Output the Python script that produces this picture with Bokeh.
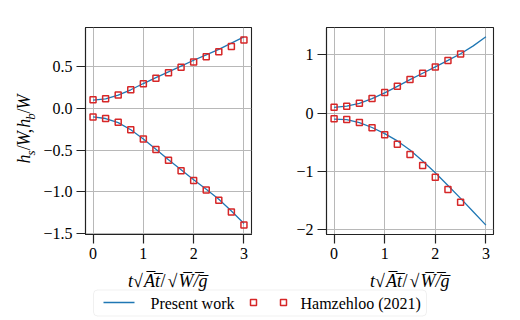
from math import pi
from bokeh.plotting import figure
from bokeh.layouts import row, column
from bokeh.models import Range1d, FixedTicker, Label, BoxAnnotation
from bokeh.embed import file_html
from bokeh.resources import INLINE

# ---------------- data ----------------
t_line = [0.0, 0.25, 0.5, 0.75, 1.0, 1.25, 1.5, 1.75, 2.0, 2.25, 2.5, 2.75, 3.0]
left_top_line = [0.10, 0.115, 0.16, 0.225, 0.30, 0.37, 0.44, 0.51, 0.58, 0.645, 0.71, 0.785, 0.86]
left_bot_line = [-0.10, -0.12, -0.17, -0.255, -0.365, -0.49, -0.615, -0.735, -0.855, -0.97, -1.09, -1.23, -1.38]
right_top_line = [0.10, 0.12, 0.17, 0.25, 0.35, 0.46, 0.575, 0.685, 0.795, 0.905, 1.02, 1.155, 1.31]
right_bot_line = [-0.10, -0.11, -0.16, -0.245, -0.35, -0.475, -0.63, -0.82, -1.02, -1.24, -1.46, -1.69, -1.92]

t_left_ref = [0.0, 0.25, 0.5, 0.75, 1.0, 1.25, 1.5, 1.75, 2.0, 2.25, 2.5, 2.75, 3.0]
left_top_ref = [0.105, 0.117, 0.161, 0.226, 0.298, 0.363, 0.431, 0.496, 0.560, 0.621, 0.681, 0.746, 0.823]
left_bot_ref = [-0.101, -0.121, -0.165, -0.254, -0.367, -0.492, -0.621, -0.746, -0.863, -0.980, -1.101, -1.242, -1.399]

t_right_ref = [0.0, 0.25, 0.5, 0.75, 1.0, 1.25, 1.5, 1.75, 2.0, 2.25, 2.5]
right_top_ref = [0.103, 0.12, 0.171, 0.251, 0.354, 0.463, 0.577, 0.686, 0.794, 0.903, 1.017]
right_bot_ref = [-0.097, -0.109, -0.16, -0.251, -0.371, -0.531, -0.709, -0.897, -1.097, -1.309, -1.526]

x_ticks = [0, 1, 2, 3]
x_tick_labels = ["0", "1", "2", "3"]
left_y_ticks = [-1.5, -1.0, -0.5, 0.0, 0.5]
left_y_tick_labels = ["\u22121.5", "\u22121.0", "\u22120.5", "0.0", "0.5"]
right_y_ticks = [-2, -1, 0, 1]
right_y_tick_labels = ["\u22122", "\u22121", "0", "1"]
legend_labels = ["Present work", "Hamzehloo (2021)"]

# ---------------- style / layout ----------------
SERIF = "Liberation Serif"
LINE_COLOR = "#1f77b4"
MARK_COLOR = "#d62728"
FRAME_W, FRAME_H = 167, 207
TOP, BOTTOM = 27, 31
PH = TOP + FRAME_H + BOTTOM          # 265
YLAB_W = 40
X_RANGE = (-0.15, 3.15)
LEFT_YR = (-1.513, 0.973)
RIGHT_YR = (-2.08, 1.47)


def make_panel(width, border_left, y_range, yticks, ylabels):
    p = figure(width=width, height=PH, x_range=Range1d(*X_RANGE), y_range=Range1d(*y_range),
               output_backend="svg", toolbar_location=None,
               min_border_left=border_left, min_border_right=width - border_left - FRAME_W,
               min_border_top=TOP, min_border_bottom=BOTTOM)
    p.background_fill_color = "white"
    p.border_fill_color = "white"
    p.outline_line_color = "#222222"
    p.outline_line_width = 1.1
    p.xaxis.ticker = FixedTicker(ticks=x_ticks, minor_ticks=[])
    p.yaxis.ticker = FixedTicker(ticks=yticks, minor_ticks=[])
    p.xaxis.major_label_overrides = dict(zip(x_ticks, x_tick_labels))
    p.yaxis.major_label_overrides = dict(zip(yticks, ylabels))
    for ax in (p.xaxis, p.yaxis):
        ax.axis_line_color = "#222222"
        ax.axis_line_width = 1.1
        ax.major_tick_line_color = "#222222"
        ax.major_tick_line_width = 1.2
        ax.major_tick_out = 9
        ax.major_tick_in = 0
        ax.minor_tick_line_color = None
        ax.major_label_text_font = SERIF
        ax.major_label_text_font_size = "16px"
        ax.major_label_text_color = "black"
        ax.major_label_standoff = 4
    p.grid.grid_line_color = "#b8b8b8"
    p.grid.grid_line_width = 1
    return p


def bare_figure(width, height, x_range, y_range):
    f = figure(width=width, height=height, x_range=Range1d(*x_range), y_range=Range1d(*y_range),
               output_backend="svg", toolbar_location=None, min_border=0,
               x_axis_type=None, y_axis_type=None)
    f.outline_line_color = None
    f.grid.visible = False
    f.border_fill_color = "white"
    f.background_fill_color = "white"
    return f


def add_text(f, x, y, text, size, italic=True, angle=0.0, align="left", baseline="alphabetic"):
    f.add_layout(Label(x=x, y=y, text=text, text_font=SERIF, text_font_size=f"{size}px",
                       text_font_style="italic" if italic else "normal", angle=angle,
                       text_align=align, text_baseline=baseline, text_color="black"))


# ---------------- y label figure (page pixel coordinates) ----------------
fy = bare_figure(YLAB_W, PH, (0, YLAB_W), (PH, 0))
# (text, centre distance along reading direction, font size, italic, is_subscript)
ylab_parts = [("h", 4.5, 18, True, False), ("s", 12.5, 13, True, True), ("/", 19, 18, False, False),
              ("W", 30.5, 18, True, False), (",", 40.5, 18, False, False), ("h", 50.5, 18, True, False),
              ("b", 59, 13, True, True), ("/", 66, 18, False, False), ("W", 77.5, 18, True, False)]
ystart = 130.5 + 42.5
BASE_X = 30
for txt, c, size, it, sub in ylab_parts:
    bx = BASE_X + (4 if sub else 0)
    cx = bx - 0.3375 * size
    add_text(fy, cx, ystart - c, txt, size, it, angle=pi / 2, align="center", baseline="middle")

# ---------------- left panel ----------------
p1 = make_panel(224, 84 - YLAB_W, LEFT_YR, left_y_ticks, left_y_tick_labels)
for ys in (left_top_line, left_bot_line):
    p1.line(t_line, ys, line_color=LINE_COLOR, line_width=1.3)
for ys in (left_top_ref, left_bot_ref):
    p1.scatter(t_left_ref, ys, marker="square", size=6, line_color=MARK_COLOR,
               line_width=1.5, fill_color=None)

# ---------------- right panel ----------------
p2 = make_panel(254, 326 - (YLAB_W + 224), RIGHT_YR, right_y_ticks, right_y_tick_labels)
for ys in (right_top_line, right_bot_line):
    p2.line(t_line, ys, line_color=LINE_COLOR, line_width=1.3)
for ys in (right_top_ref, right_bot_ref):
    p2.scatter(t_right_ref, ys, marker="square", size=6, line_color=MARK_COLOR,
               line_width=1.5, fill_color=None)

# ---------------- x labels + legend figure (page pixel coordinates) ----------------
TOTAL_W, TOTAL_H = 518, 318
fb = bare_figure(TOTAL_W, TOTAL_H - PH, (0, TOTAL_W), (TOTAL_H, PH))
xlab_parts = [("t", 0, 18, True), ("\u221a", 5, 18, False), ("A\u0305t\u0305", 16, 18, True),
              ("/", 32.5, 18, False), ("\u221a", 39.5, 18, False), ("W\u0305/\u0305g\u0305", 50.5, 18, True)]
for cx in (84 + FRAME_W / 2, 326 + FRAME_W / 2):
    for txt, off, size, it in xlab_parts:
        add_text(fb, cx - 40 + off, 280, txt, size, it)

fb.add_layout(BoxAnnotation(left=93, right=426, top=289.5, bottom=315.5, border_radius=4,
                            fill_color="white", fill_alpha=0.8, level="underlay",
                            line_color="#cccccc", line_width=1))
fb.line([103, 134], [302, 302], line_color=LINE_COLOR, line_width=1.3)
fb.scatter([253, 283], [302, 302], marker="square", size=6, line_color=MARK_COLOR,
           line_width=1.5, fill_color=None)
add_text(fb, 150, 302.5, legend_labels[0], 16, italic=False, baseline="middle")
add_text(fb, 300, 302.5, legend_labels[1], 16, italic=False, baseline="middle")

layout = column(row(fy, p1, p2), fb)
open("out.html", "w").write(file_html(layout, INLINE))
